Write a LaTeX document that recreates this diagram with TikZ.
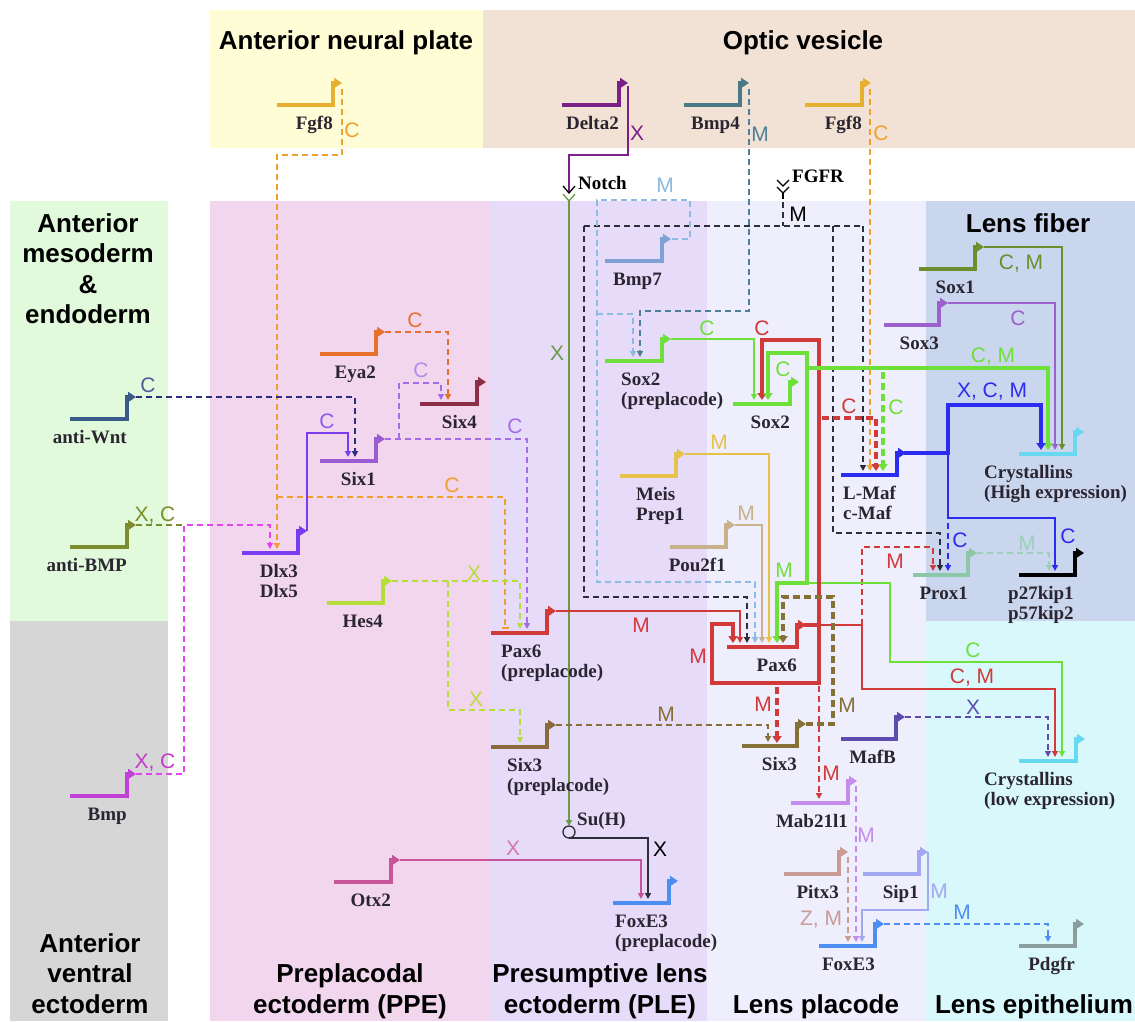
\documentclass[tikz,border=0pt]{standalone}
\usepackage{fontspec}
\setmainfont{Liberation Serif}
\newfontfamily\hsans{Liberation Sans}
\usetikzlibrary{arrows.meta}
\definecolor{cANP}{HTML}{FFFDD6}
\definecolor{cOV}{HTML}{F2E2D6}
\definecolor{cAME}{HTML}{E1FADB}
\definecolor{cAVE}{HTML}{D6D6D6}
\definecolor{cPPE}{HTML}{F2D6EE}
\definecolor{cPLE}{HTML}{E6DBF8}
\definecolor{cLP}{HTML}{EEEEFC}
\definecolor{cLF}{HTML}{C9D6EE}
\definecolor{cLE}{HTML}{D8F8FC}
\definecolor{cTxt}{HTML}{2A2530}
\definecolor{cOr}{HTML}{F0A02C}
\definecolor{cFgf}{HTML}{E8B030}
\definecolor{cDel}{HTML}{7A2088}
\definecolor{cNotchG}{HTML}{6B9A45}
\definecolor{cBmp4}{HTML}{4F809A}
\definecolor{cBmp4g}{HTML}{4A7A86}
\definecolor{cBlk}{HTML}{2E2E3A}
\definecolor{cLB}{HTML}{8CBAE0}
\definecolor{cBmp7}{HTML}{7EA2D4}
\definecolor{cGr}{HTML}{6EE03A}
\definecolor{cRd}{HTML}{D23A3A}
\definecolor{cGold}{HTML}{E6C24A}
\definecolor{cTan}{HTML}{C8B28C}
\definecolor{cBrown}{HTML}{857036}
\definecolor{cSixp}{HTML}{8A6A3C}
\definecolor{cYG}{HTML}{B6DE3A}
\definecolor{cPur}{HTML}{A46CE6}
\definecolor{cSix1}{HTML}{9A5CD0}
\definecolor{cEya}{HTML}{E8702E}
\definecolor{cSix4}{HTML}{8C2E48}
\definecolor{cNavy}{HTML}{2C2C80}
\definecolor{cWnt}{HTML}{3A5A8A}
\definecolor{cViolet}{HTML}{7A3CF0}
\definecolor{cOlive}{HTML}{7D8C2C}
\definecolor{cMag}{HTML}{E444F0}
\definecolor{cBmp}{HTML}{C040D8}
\definecolor{cPink}{HTML}{C8559A}
\definecolor{cMafB}{HTML}{5C4CB0}
\definecolor{cOrchid}{HTML}{C48CEC}
\definecolor{cRosy}{HTML}{C89C94}
\definecolor{cPeri}{HTML}{A4A8F2}
\definecolor{cFox}{HTML}{4C8EF2}
\definecolor{cPdg}{HTML}{8A9E9E}
\definecolor{cSox1}{HTML}{6C8E2C}
\definecolor{cSox3}{HTML}{9C62CC}
\definecolor{cBlue}{HTML}{2C2CF0}
\definecolor{cProx}{HTML}{8CC8A8}
\definecolor{cProxD}{HTML}{9CD0B8}
\definecolor{cCrys}{HTML}{66D8F0}
\newcommand{\genesym}[5]{%
  \draw[gst,draw=#4] (#1,#3) -- (#2,#3) -- (#2,#3-22) -- (#2+9,#3-22);
  \coordinate (#5) at (#2+9,#3-22);}
\begin{document}
\begin{tikzpicture}[x=1pt,y=-1pt,
  gst/.style={line width=3.5pt,-{Triangle[length=8pt,width=10pt]}},
  cn/.style={line width=1.6pt},
  dsh/.style={dash pattern=on 6pt off 4pt},
  dshT/.style={dash pattern=on 7pt off 4pt},
  thk/.style={line width=4.5pt},
  ar/.style={-{Triangle[length=6pt,width=6pt]}},
  thar/.style={-{Triangle[length=7pt,width=9pt]}},
  ttl/.style={font=\hsans\bfseries\fontsize{26}{30}\selectfont,anchor=base,inner sep=0pt},
  gr/.style={font=\bfseries\fontsize{19}{20}\selectfont,text=cTxt,inner sep=0pt,anchor=base east},
  gl/.style={font=\bfseries\fontsize{19}{20}\selectfont,text=cTxt,inner sep=0pt,anchor=base west},
  el/.style={font=\hsans\fontsize{21}{21}\selectfont,inner sep=0pt,text height=15pt,text depth=0pt,anchor=center}]
\fill[white] (0,0) rectangle (1135,1021);
\useasboundingbox (0,0) rectangle (1135,1021);
% regions
\fill[cANP] (210,10) rectangle (483,148);
\fill[cOV] (483,10) rectangle (1135,148);
\fill[cAME] (10,201) rectangle (168,621);
\fill[cAVE] (10,621) rectangle (168,1021);
\fill[cPPE] (210,201) rectangle (489,1021);
\fill[cPLE] (489,201) rectangle (707,1021);
\fill[cLP] (707,201) rectangle (926,1021);
\fill[cLF] (926,201) rectangle (1135,621);
\fill[cLE] (926,621) rectangle (1135,1021);
% titles
\node[ttl] (tANP) at (346,49) {Anterior neural plate};
\node[ttl] (tOV) at (803,49) {Optic vesicle};
\node[ttl] (tLF) at (1028,232) {Lens fiber};
\node[ttl] (tAM1) at (88,232) {Anterior};
\node[ttl] (tAM2) at (88,262) {mesoderm};
\node[ttl] (tAM3) at (88,293) {\&};
\node[ttl] (tAM4) at (88,323) {endoderm};
\node[ttl] (tAV1) at (90,952) {Anterior};
\node[ttl] (tAV2) at (90,982) {ventral};
\node[ttl] (tAV3) at (90,1013) {ectoderm};
\node[ttl] (tPP1) at (350,982) {Preplacodal};
\node[ttl] (tPP2) at (350,1013) {ectoderm (PPE)};
\node[ttl] (tPL1) at (600,982) {Presumptive lens};
\node[ttl] (tPL2) at (600,1013) {ectoderm (PLE)};
\node[ttl] (tLP) at (816,1013) {Lens placode};
\node[ttl] (tLE) at (1034,1013) {Lens epithelium};
% ---------- connectors ----------
% Fgf8 (ANP)
\draw[cn,dsh,cOr,ar] (342,89) -- (342,155) -- (277,155) -- (277,549);
\draw[cn,dsh,cOr,-{Bar[width=7pt]}] (277,497) -- (505,497) -- (505,629);
% Delta2 / Notch
\draw[cn,cDel] (628,86) -- (628,155) -- (569,155) -- (569,193);
\draw[line width=1.3pt,black] (563,186) -- (569,193) -- (575,186);
\draw[line width=1.3pt,cNotchG] (563,194) -- (569,201) -- (575,194);
\draw[cn,cNotchG,ar] (569,200) -- (569,826);
\draw[line width=1.3pt,cBlk] (569,832) circle (6pt);
\draw[cn,cBlk,ar] (569,838) -- (648,838) -- (648,899);
% Bmp4
\draw[cn,dsh,cBmp4,ar] (749,89) -- (749,311) -- (640,311) -- (640,357);
% Fgf8 (OV)
\draw[cn,dsh,cOr,ar] (870,89) -- (870,471);
% FGFR
\draw[line width=1.3pt,black] (777,180) -- (783,186) -- (789,180);
\draw[line width=1.3pt,black] (777,187) -- (783,193) -- (789,187);
\draw[line width=1.3pt,black] (783,192) -- (783,199);
\draw[cn,dsh,cBlk] (783,202) -- (783,226);
\draw[cn,dsh,cBlk] (584,226) -- (863,226);
\draw[cn,dsh,cBlk,ar] (584,226) -- (584,597) -- (747,597) -- (747,643);
\draw[cn,dsh,cBlk,ar] (833,226) -- (833,533) -- (940,533) -- (940,571);
\draw[cn,dsh,cBlk,ar] (863,226) -- (863,471);
% Bmp7
\draw[cn,dsh,cLB,ar] (672,239) -- (690,239) -- (690,200) -- (597,200) -- (597,582) -- (755,582) -- (755,643);
\draw[cn,dsh,cLB,ar] (597,314) -- (633,314) -- (633,357);
% Sox2 (preplacode) -> Sox2
\draw[cn,cGr,ar] (671,339) -- (754,339) -- (754,400);
% Meis, Pou2f1, Pax6 (preplacode) -> Pax6
\draw[cn,cGold,ar] (685,454) -- (769,454) -- (769,643);
\draw[cn,cTan,ar] (735,525) -- (762,525) -- (762,643);
\draw[cn,cRd,ar] (556,611) -- (740,611) -- (740,643);
% thin red from Pax6
\draw[cn,cRd,ar] (819,625) -- (862,625) -- (862,689) -- (1055,689) -- (1055,757);
\draw[cn,dsh,cRd,ar] (862,625) -- (862,547) -- (933,547) -- (933,571);
\draw[cn,dsh,cRd,ar] (819,686) -- (819,799);
% thin green from Sox2
\draw[cn,cGr,ar] (807,583) -- (890,583) -- (890,662) -- (1062,662) -- (1062,757);
% thick red Pax6 loop
\draw[thk,cRd,{Triangle[length=7pt,width=9pt]}-{Triangle[length=7pt,width=9pt]}] (733,643) -- (733,624) -- (712,624) -- (712,683) -- (819,683) -- (819,340) -- (762,340) -- (762,400);
\draw[thk,cRd] (804,625) -- (819,625);
\draw[thk,dshT,cRd,thar] (777,687) -- (777,743);
\draw[thk,dshT,cRd,thar] (822,418) -- (876,418) -- (876,471);
% thick green Sox2 loop
\draw[thk,cGr,{Triangle[length=7pt,width=9pt]}-{Triangle[length=7pt,width=9pt]}] (777,643) -- (777,583) -- (807,583) -- (807,353) -- (768,353) -- (768,400);
\draw[thk,cGr,thar] (807,368) -- (1048,368) -- (1048,450);
\draw[thk,dshT,cGr,thar] (883,372) -- (883,471);
% Six3 loops
\draw[thk,dshT,cBrown,thar] (806,724) -- (833,724) -- (833,597) -- (783,597) -- (783,643);
\draw[cn,dsh,cBrown,ar] (556,725) -- (768,725) -- (768,742);
% Hes4
\draw[cn,dsh,cYG,ar] (392,581) -- (520,581) -- (520,629);
\draw[cn,dsh,cYG,ar] (448,581) -- (448,710) -- (520,710) -- (520,743);
% Six1
\draw[cn,dsh,cPur,ar] (385,439) -- (527,439) -- (527,629);
\draw[cn,dsh,cPur,ar] (399,439) -- (399,383) -- (441,383) -- (441,400);
% Eya2
\draw[cn,dsh,cEya,ar] (385,332) -- (448,332) -- (448,400);
% anti-Wnt
\draw[cn,dsh,cNavy,ar] (136,397) -- (355,397) -- (355,457);
% Dlx
\draw[cn,cViolet,ar] (307,531) -- (307,433) -- (348,433) -- (348,457);
% anti-BMP and Bmp
\draw[cn,dsh,cOlive] (136,525) -- (184,525);
\draw[cn,dsh,cMag,ar] (136,774) -- (184,774) -- (184,525) -- (270,525) -- (270,549);
% Otx2
\draw[cn,cPink,ar] (400,860) -- (641,860) -- (641,899);
% MafB
\draw[cn,dsh,cMafB,ar] (905,717) -- (1048,717) -- (1048,757);
% FoxE3 inputs
\draw[cn,dsh,cOrchid,ar] (856,786) -- (856,942);
\draw[cn,dsh,cRosy,ar] (848,857) -- (848,942);
\draw[cn,cPeri,ar] (928,852) -- (928,910) -- (862,910) -- (862,942);
\draw[cn,dsh,cFox,ar] (884,924) -- (1048,924) -- (1048,942);
% Sox1, Sox3
\draw[cn,cSox1,ar] (984,247) -- (1062,247) -- (1062,450);
\draw[cn,cSox3,ar] (948,303) -- (1055,303) -- (1055,450);
% L-Maf
\draw[thk,cBlue,thar] (904,453) -- (948,453) -- (948,405) -- (1041,405) -- (1041,450);
\draw[cn,cBlue,ar] (948,453) -- (948,518) -- (1055,518) -- (1055,571);
\draw[cn,dsh,cBlue,ar] (948,523) -- (948,571);
% Prox1
\draw[cn,dsh,cProxD,ar] (977,553) -- (1049,553) -- (1049,571);
% ---------- genes ----------
\genesym{277}{333}{105}{cFgf}{fgfA}
\genesym{562}{619}{105}{cDel}{delta}
\genesym{684}{740}{105}{cBmp4g}{bmpf}
\genesym{805}{862}{105}{cFgf}{fgfB}
\genesym{605}{662}{261}{cBmp7}{bmps}
\genesym{605}{662}{361}{cGr}{soxp}
\genesym{733}{790}{404}{cGr}{soxb}
\genesym{620}{676}{476}{cGold}{meis}
\genesym{670}{726}{547}{cTan}{pou}
\genesym{727}{797}{647}{cRd}{paxb}
\genesym{491}{547}{633}{cRd}{paxp}
\genesym{327}{383}{603}{cYG}{hes}
\genesym{491}{547}{747}{cSixp}{sixtp}
\genesym{742}{797}{746}{cBrown}{sixtb}
\genesym{841}{896}{739}{cMafB}{mafb}
\genesym{1019}{1076}{761}{cCrys}{crysl}
\genesym{791}{848}{803}{cOrchid}{mab}
\genesym{784}{839}{874}{cRosy}{pitx}
\genesym{863}{919}{874}{cPeri}{sip}
\genesym{819}{875}{946}{cFox}{foxb}
\genesym{1019}{1075}{946}{cPdg}{pdg}
\genesym{613}{669}{903}{cFox}{foxp}
\genesym{334}{391}{882}{cPink}{otx}
\genesym{70}{127}{796}{cBmp}{bmpa}
\genesym{70}{127}{547}{cOlive}{abmp}
\genesym{70}{127}{419}{cWnt}{awnt}
\genesym{242}{298}{553}{cViolet}{dlx}
\genesym{320}{376}{461}{cSix1}{sixo}
\genesym{320}{376}{354}{cEya}{eya}
\genesym{420}{477}{404}{cSix4}{sixf}
\genesym{919}{975}{269}{cSox1}{soxo}
\genesym{884}{939}{325}{cSox3}{soxt}
\genesym{1019}{1075}{454}{cCrys}{crysh}
\genesym{841}{897}{475}{cBlue}{lmaf}
\genesym{913}{968}{575}{cProx}{prox}
\genesym{1019}{1075}{575}{black}{pkip}
% ---------- gene labels ----------
\node[gr] (lFgfA) at (333,129) {Fgf8};
\node[gr] (lDel) at (619,129) {Delta2};
\node[gr] (lBmp4) at (740,129) {Bmp4};
\node[gr] (lFgfB) at (862,129) {Fgf8};
\node[gr] (lBmp7) at (662,285) {Bmp7};
\node[gr] (lSox2) at (790,428) {Sox2};
\node[gr] (lPou) at (726,571) {Pou2f1};
\node[gr] (lPax6) at (797,671) {Pax6};
\node[gr] (lSix3) at (797,770) {Six3};
\node[gr] (lMafB) at (896,763) {MafB};
\node[gr] (lMab) at (848,827) {Mab21l1};
\node[gr] (lPitx) at (839,898) {Pitx3};
\node[gr] (lSip) at (919,898) {Sip1};
\node[gr] (lFox) at (875,970) {FoxE3};
\node[gr] (lPdg) at (1075,970) {Pdgfr};
\node[gr] (lOtx) at (391,906) {Otx2};
\node[gr] (lBmp) at (127,820) {Bmp};
\node[gr] (lABmp) at (127,571) {anti-BMP};
\node[gr] (lAWnt) at (127,443) {anti-Wnt};
\node[gr] (lDlx3) at (298,577) {Dlx3};
\node[gr] (lDlx5) at (298,597) {Dlx5};
\node[gr] (lSix1) at (376,485) {Six1};
\node[gr] (lEya) at (376,378) {Eya2};
\node[gr] (lSix4) at (477,428) {Six4};
\node[gr] (lSox1) at (975,293) {Sox1};
\node[gr] (lSox3) at (939,349) {Sox3};
\node[gr] (lHes) at (383,627) {Hes4};
\node[gr] (lProx) at (968,599) {Prox1};
\node[gl] (lSoxp1) at (621,385) {Sox2};
\node[gl] (lSoxp2) at (621,405) {(preplacode)};
\node[gl] (lMeis1) at (636,500) {Meis};
\node[gl] (lMeis2) at (636,520) {Prep1};
\node[gl] (lPaxp1) at (501,657) {Pax6};
\node[gl] (lPaxp2) at (501,677) {(preplacode)};
\node[gl] (lSixp1) at (507,771) {Six3};
\node[gl] (lSixp2) at (507,791) {(preplacode)};
\node[gl] (lFoxp1) at (615,927) {FoxE3};
\node[gl] (lFoxp2) at (615,947) {(preplacode)};
\node[gl] (lLmaf1) at (843,499) {L-Maf};
\node[gl] (lLmaf2) at (843,519) {c-Maf};
\node[gl] (lCrH1) at (984,478) {Crystallins};
\node[gl] (lCrH2) at (984,498) {(High expression)};
\node[gl] (lCrL1) at (984,785) {Crystallins};
\node[gl] (lCrL2) at (984,805) {(low expression)};
\node[gl] (lKip1) at (1008,599) {p27kip1};
\node[gl] (lKip2) at (1008,619) {p57kip2};
\node[gl,text=black] (lNotch) at (578,189) {Notch};
\node[gl,text=black] (lFGFR) at (792,182) {FGFR};
\node[gl] (lSuH) at (577,825) {Su(H)};
% ---------- edge labels ----------
\node[el,text=cOr] (e1) at (352,130) {C};
\node[el,text=cDel] (e2) at (637,133) {X};
\node[el,text=cBmp4] (e3) at (760,134) {M};
\node[el,text=cOr] (e4) at (881,133) {C};
\node[el,text=cLB] (e5) at (665,185) {M};
\node[el,text=black] (e6) at (798,214) {M};
\node[el,text=cNotchG] (e7) at (557,353) {X};
\node[el,text=cEya] (e8) at (415,320) {C};
\node[el,text=cPur!80] (e9) at (421,370) {C};
\node[el,text=cViolet!85] (e10) at (327,421) {C};
\node[el,text=cPur] (e11) at (515,426) {C};
\node[el,text=cOr] (e12) at (452,485) {C};
\node[el,text=cNavy!80] (e13) at (148,385) {C};
\node[el,text=cOlive] (e14) at (155,514) {X, C};
\node[el,text=cMag!85!black] (e15) at (155,761) {X, C};
\node[el,text=cYG] (e16) at (474,573) {X};
\node[el,text=cYG] (e17) at (476,699) {X};
\node[el,text=cRd] (e18) at (641,625) {M};
\node[el,text=cRd] (e19) at (698,656) {M};
\node[el,text=cBrown] (e20) at (666,714) {M};
\node[el,text=cRd] (e21) at (763,704) {M};
\node[el,text=cBrown] (e22) at (847,705) {M};
\node[el,text=cGold] (e23) at (719,442) {M};
\node[el,text=cTan] (e24) at (746,513) {M};
\node[el,text=cGr] (e25) at (784,570) {M};
\node[el,text=cGr] (e26) at (707,328) {C};
\node[el,text=cRd] (e27) at (762,328) {C};
\node[el,text=cGr] (e28) at (783,369) {C};
\node[el,text=cRd] (e29) at (849,406) {C};
\node[el,text=cGr] (e30) at (896,407) {C};
\node[el,text=cGr] (e31) at (993,355) {C, M};
\node[el,text=cBlue] (e32) at (992,390) {X, C, M};
\node[el,text=cSox1] (e33) at (1021,262) {C, M};
\node[el,text=cSox3] (e34) at (1018,318) {C};
\node[el,text=cBlue] (e35) at (960,540) {C};
\node[el,text=cProxD] (e36) at (1027,543) {M};
\node[el,text=cBlue] (e37) at (1068,536) {C};
\node[el,text=cRd] (e38) at (895,561) {M};
\node[el,text=cGr] (e39) at (973,650) {C};
\node[el,text=cRd] (e40) at (972,676) {C, M};
\node[el,text=cMafB] (e41) at (973,707) {X};
\node[el,text=cRd] (e42) at (831,773) {M};
\node[el,text=cOrchid] (e43) at (866,835) {M};
\node[el,text=cRosy] (e44) at (821,918) {Z, M};
\node[el,text=cPeri] (e45) at (939,891) {M};
\node[el,text=cFox] (e46) at (962,912) {M};
\node[el,text=cPink!80] (e47) at (513,848) {X};
\node[el,text=black] (e48) at (660,849) {X};
\end{tikzpicture}
\end{document}
